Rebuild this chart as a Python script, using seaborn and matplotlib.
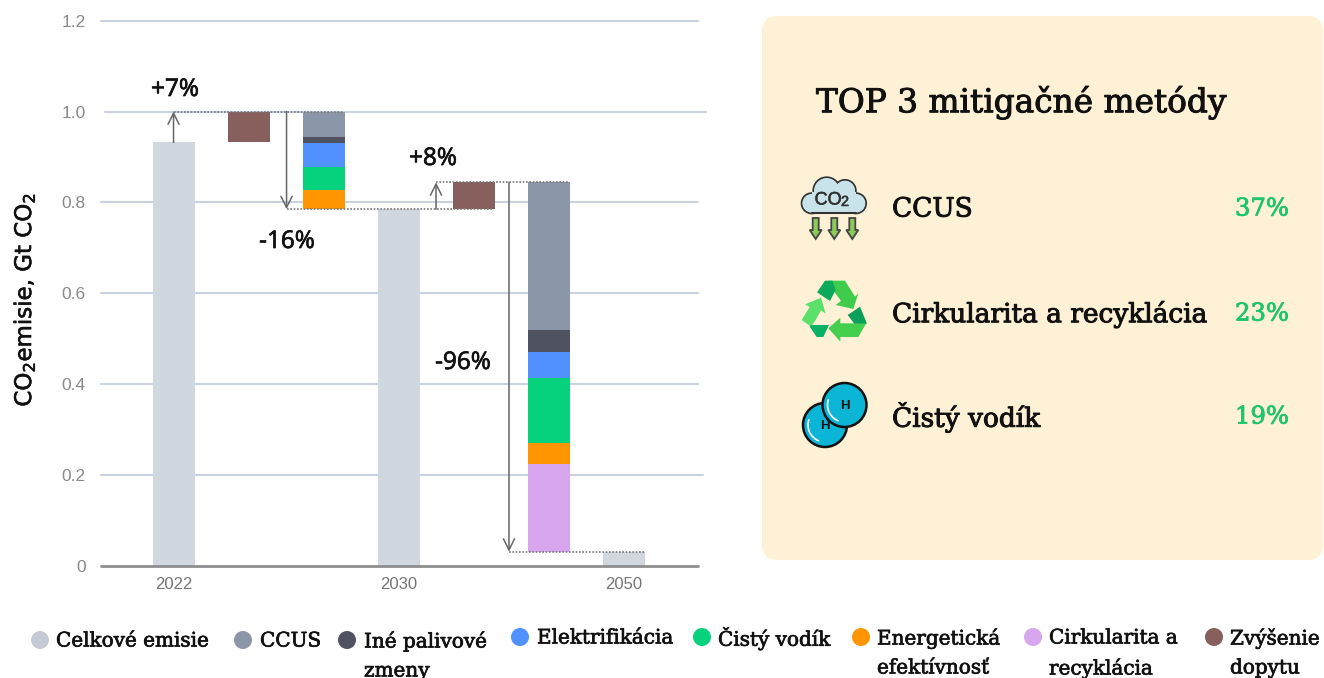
import numpy as np
import pandas as pd
import seaborn as sns
import matplotlib.pyplot as plt
import matplotlib.patheffects as pe
from matplotlib.patches import Circle, FancyBboxPatch, Polygon, Rectangle, Arc

# data
slots = ["2022", "dopyt_a", "mitig_a", "2030", "dopyt_b", "mitig_b", "2050"]
tick_labels = ["2022", "2030", "2050"]
y_ticks = [0, 0.2, 0.4, 0.6, 0.8, 1.0, 1.2]
y_tick_labels = ["0", "0.2", "0.4", "0.6", "0.8", "1.0", "1.2"]

celkove = [0.932, 0.785, 0.031]
dopyt = [0.068, 0.059]
# stack order is bottom to top, first value mitig_a, second mitig_b
cirkularita = [0.0, 0.193]
energia = [0.043, 0.046]
vodik = [0.049, 0.144]
elektro = [0.053, 0.057]
ine = [0.013, 0.049]
ccus = [0.057, 0.324]

legend_names = [["Celkové emisie"], ["CCUS"], ["Iné palivové", "zmeny"], ["Elektrifikácia"],
                ["Čistý vodík"], ["Energetická", "efektívnosť"], ["Cirkularita a", "recyklácia"],
                ["Zvýšenie", "dopytu"]]
legend_colors = ["#C4CBD6", "#8C96A9", "#4F5361", "#5090FF", "#06D27D", "#FF9500", "#D8A6EE", "#87605E"]

top_names = ["CCUS", "Cirkularita a recyklácia", "Čistý vodík"]
top_shares = ["37%", "23%", "19%"]

GRID = "#CBD2DF"
TEXT_FONT = "DejaVu Serif"
INK = "#111111"

sns.set_theme(style="white")
plt.rcParams["font.family"] = ["Liberation Sans", "DejaVu Sans"]
plt.rcParams["mathtext.default"] = "regular"

fig = plt.figure(figsize=(13.24, 6.78), dpi=100)
ax = fig.add_axes([101 / 1324, (678 - 565.7) / 678, 597 / 1324, 545 / 678])


def bar(slot, height, bottom, color):
    df = pd.DataFrame({"slot": [slot], "value": [height]})
    sns.barplot(data=df, x="slot", y="value", order=slots, color=color, saturation=1,
                width=0.56, bottom=bottom, errorbar=None, ax=ax, zorder=3, linewidth=0)


def heavy(color, w=0.6):
    return [pe.withStroke(linewidth=w, foreground=color)]


for slot, v in zip(["2022", "2030", "2050"], celkove):
    bar(slot, v, 0, "#D0D7DF")

bar("dopyt_a", dopyt[0], celkove[0], "#87605E")
bar("dopyt_b", dopyt[1], celkove[1], "#87605E")

stack = [(cirkularita, "#D8A6EE"), (energia, "#FF9500"), (vodik, "#06D27D"),
         (elektro, "#5090FF"), (ine, "#4F5361"), (ccus, "#8C96A9")]
for i, slot in enumerate(["mitig_a", "mitig_b"]):
    base = celkove[i + 1]
    for vals, col in stack:
        if vals[i] > 0:
            bar(slot, vals[i], base, col)
        base += vals[i]

top_a = celkove[0] + dopyt[0]
top_b = celkove[1] + dopyt[1]

ax.set_xlim(-0.967, 6.993)
ax.set_ylim(0, 1.2)
ax.set_xticks([0, 3, 6])
ax.set_xticklabels(tick_labels)
ax.set_yticks(y_ticks)
ax.set_yticklabels(y_tick_labels)
ax.set_xlabel("")
ax.set_ylabel("")
ax.tick_params(axis="x", length=0, pad=8, labelsize=12, labelcolor="#757575")
ax.tick_params(axis="y", length=0, pad=11, labelsize=12.5, labelcolor="#8A8A8A")
sns.despine(ax=ax, left=True, bottom=True, top=True, right=True)

# gridlines, the 1.0 one sits a little to the right in the picture
for y in y_ticks[1:]:
    x0, x1 = (-0.91, 7.1) if y == 1.0 else (-0.967, 7.06 if y == 0.2 else 6.993)
    ax.plot([x0, x1], [y, y], color=GRID, lw=1.5, zorder=1, clip_on=False)
ax.plot([-0.967, 6.993], [0, 0], color="#8E8E8E", lw=2, zorder=4, clip_on=False)

# dotted connectors and arrows
ax.plot([0, 2.27], [top_a, top_a], color="#777777", lw=1.2, ls=(0, (1, 1)), zorder=5)
ax.plot([1.507, 4.27], [celkove[1], celkove[1]], color="#777777", lw=1.2, ls=(0, (1, 1)), zorder=5)
ax.plot([3.5, 5.27], [top_b, top_b], color="#777777", lw=1.2, ls=(0, (1, 1)), zorder=5)
ax.plot([4.473, 6.27], [celkove[2], celkove[2]], color="#777777", lw=1.2, ls=(0, (1, 1)), zorder=5)

arrows = [(0, celkove[0], top_a), (1.507, top_a, celkove[1]),
          (3.5, celkove[1], top_b), (4.473, top_b, celkove[2])]
for x, y0, y1 in arrows:
    ax.annotate("", xy=(x, y1), xytext=(x, y0),
                arrowprops=dict(arrowstyle="->", color="#666666", lw=1.1, mutation_scale=20,
                                shrinkA=0, shrinkB=0), zorder=6)

# overlay in pixel coordinates for labels, panel and legend
ov = fig.add_axes([0, 0, 1, 1], zorder=10)
ov.set_xlim(0, 1324)
ov.set_ylim(678, 0)
ov.axis("off")
ov.patch.set_alpha(0)

for txt, x, y in [("+7%", 175, 90), ("-16%", 287, 242), ("+8%", 433, 159), ("-96%", 463, 363)]:
    ov.text(x, y, txt, ha="center", va="center", fontsize=17.5, family="Open Sans", color=INK,
            path_effects=heavy(INK, 0.5))

ov.text(24, 300, "CO$_2$emisie, Gt CO$_2$", rotation=90, ha="center", va="center",
        fontsize=16.5, family="DejaVu Sans", color=INK, path_effects=heavy(INK, 0.4))

ov.add_patch(FancyBboxPatch((762, 16), 561, 544, boxstyle="round,pad=0,rounding_size=16",
                            fc="#FFF1D6", ec="none"))

ov.text(816, 102, "TOP 3 mitigačné metódy", ha="left", va="center", fontsize=23.6,
        family=TEXT_FONT, color=INK, path_effects=heavy(INK, 0.7))
for name, share, y in zip(top_names, top_shares, [209, 314, 417]):
    ov.text(892, y, name, ha="left", va="center", fontsize=19, family=TEXT_FONT, color=INK,
            path_effects=heavy(INK, 0.7))
    ov.text(1289, y, share, ha="right", va="center", fontsize=17.5, family=TEXT_FONT,
            color="#1FC46E", path_effects=heavy("#1FC46E", 0.6))

# cloud icon
cloud = [(811.7, 203.3, 10), (826.7, 190.7, 13.3), (845, 190.7, 10.7), (856, 203.3, 10)]
for cx, cy, r in cloud:
    ov.add_patch(Circle((cx, cy), r, fc="#C9E3EA", ec="#333333", lw=1.5))
ov.add_patch(Rectangle((812, 192), 44, 21, fc="#C9E3EA", ec="none", zorder=3))
for cx, cy, r in cloud:
    ov.add_patch(Circle((cx, cy), r - 0.7, fc="#C9E3EA", ec="none", zorder=3))
ov.plot([812, 856], [213.3, 213.3], color="#333333", lw=1.5, zorder=4)
ov.text(828, 200, "CO", ha="center", va="center", fontsize=13, family="Liberation Sans",
        color="#333333", zorder=5, path_effects=heavy("#333333", 0.4))
ov.text(845, 202, "2", ha="center", va="center", fontsize=10.5, family="Liberation Sans",
        color="#333333", zorder=5, path_effects=heavy("#333333", 0.4))
for cx in [815.7, 834.3, 852.3]:
    ov.add_patch(Polygon([(cx - 3, 218), (cx + 3, 218), (cx + 3, 230), (cx + 6, 230), (cx, 239),
                          (cx - 6, 230), (cx - 3, 230)], fc="#8CCB5A", ec="#444444", lw=1.3))

# recycle icon, points taken from the 3x crop at (795, 275)
recycle = [
    ([(100, 17), (150, 17), (180, 65), (190, 55), (175, 102), (122, 90), (138, 78), (112, 42)], "#3FCB4B"),
    ([(66, 52), (90, 17), (112, 17), (122, 45), (105, 78)], "#0BA95A"),
    ([(78, 68), (92, 116), (78, 106), (62, 135), (48, 155), (20, 135), (44, 96), (30, 88)], "#5BE06A"),
    ([(48, 150), (102, 150), (85, 186), (65, 186), (44, 155)], "#0BB266"),
    ([(100, 160), (136, 128), (136, 145), (214, 145), (190, 186), (136, 186), (136, 200)], "#45CF4F"),
    ([(158, 120), (195, 95), (216, 146), (178, 146)], "#0BA05A"),
]
for pts, col in recycle:
    ov.add_patch(Polygon([(795 + px / 3, 275 + py / 3) for px, py in pts], fc=col, ec="none"))

# hydrogen icon
for cx, cy, label in [(825, 425, "H"), (844.5, 405, "H")]:
    ov.add_patch(Circle((cx, cy), 22, fc="#0BB5D5", ec="#111111", lw=1.8))
    ov.add_patch(Arc((cx, cy), 34, 34, theta1=110, theta2=200, ec="white", lw=1.2))
    ov.text(cx, cy + 1, label, ha="center", va="center", fontsize=9.5, weight="bold",
            family="Liberation Sans", color=INK)

# legend
dots = [(40, 640), (243, 640), (347, 640), (520, 637), (702, 637), (861, 637), (1033, 637), (1214, 637)]
text_x = [56, 260, 364, 537, 718, 877, 1049, 1230]
for names, col, (dx, dy), tx in zip(legend_names, legend_colors, dots, text_x):
    ov.add_patch(Circle((dx, dy), 9, fc=col, ec="none"))
    ov.text(tx, dy + 1, names[0], ha="left", va="center", fontsize=14.4, family=TEXT_FONT, color=INK,
            path_effects=heavy(INK, 0.5))
    if len(names) > 1:
        ov.text(tx, dy + 31, names[1], ha="left", va="center", fontsize=14.4, family=TEXT_FONT,
                color=INK, path_effects=heavy(INK, 0.5))

fig.savefig("out.png", dpi=100)
